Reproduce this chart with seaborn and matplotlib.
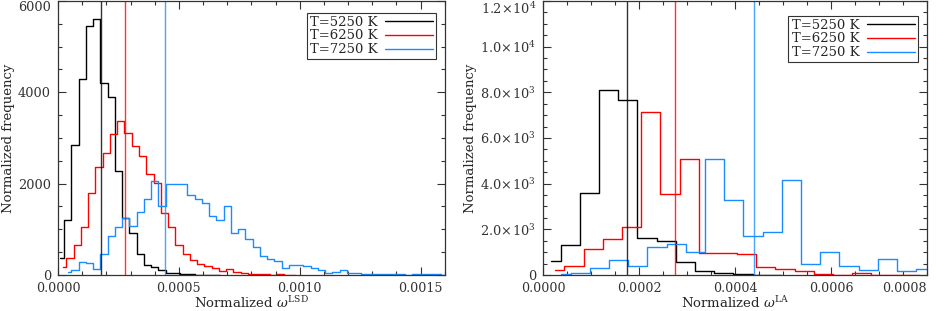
import numpy as np
import pandas as pd
import matplotlib
matplotlib.use("Agg")
import matplotlib.pyplot as plt
from matplotlib.ticker import MultipleLocator, FuncFormatter
import seaborn as sns

# temperatures / colours
temps = ["T=5250 K", "T=6250 K", "T=7250 K"]
colors = ["#000000", "#ff0000", "#1a8cff"]

# median values (vertical lines)
medians_lsd = [0.000176, 0.000276, 0.000441]
medians_la = [0.000175, 0.000276, 0.000440]

# left panel: omega LSD histograms (first bin centre, bin width, counts)
lsd_start = [0.00001, 0.00002, 0.00004]
lsd_width = 0.00003
lsd_black = [365, 1200, 2850, 4300, 5450, 5600, 4200, 3900, 2270, 1250, 925, 450,
             218, 168, 109, 40, 35, 20, 15, 10, 8, 5, 3]
lsd_red = [180, 380, 650, 1050, 1800, 2370, 2670, 3090, 3380, 3120, 2820, 2600,
           2220, 2020, 1360, 1040, 656, 460, 330, 240, 197, 146, 94, 124, 72, 37,
           25, 30, 15, 10, 20, 5, 5]
lsd_blue = [60, 115, 280, 270, 130, 450, 860, 1040, 1250, 1080, 1380, 1660, 2050,
            1520, 2000, 2000, 2000, 1750, 1670, 1570, 1300, 1200, 1500, 910, 1000,
            780, 620, 415, 345, 310, 146, 215, 220, 200, 146, 110, 51, 73, 110, 51,
            51, 22, 30, 20, 15, 25, 30, 10, 20, 15, 30, 20, 10, 15]

# right panel: omega LA histograms
la_start = [0.0000167, 0.0000244, 0.0000377]
la_width = 0.00004
la_black = [600, 1320, 3570, 8100, 7650, 1600, 1500, 550, 190, 73, 29, 10, 5]
la_red = [200, 380, 1130, 1570, 2100, 7140, 3560, 5080, 950, 980, 920, 330, 250,
          190, 44, 15, 73, 10, 10, 5]
la_blue = [44, 102, 293, 658, 380, 1230, 1350, 1024, 5080, 3293, 1727, 1873, 4171,
           483, 996, 410, 220, 688, 176, 249]


def make_frame(starts, width, series):
    rows = []
    for t, s0, vals in zip(temps, starts, series):
        x = s0 + width * np.arange(len(vals))
        rows.append(pd.DataFrame({"x": x, "freq": vals, "T": t}))
    return pd.concat(rows, ignore_index=True)


def sci_fmt(v, pos):
    if v <= 0:
        return "0"
    e = int(np.floor(np.log10(v)))
    return r"$%.1f\!\times\!10^{%d}$" % (v / 10 ** e, e)


sns.set_style("ticks")
plt.rcParams["font.family"] = ["DejaVu Serif"]
plt.rcParams["mathtext.fontset"] = "dejavuserif"
plt.rcParams["font.size"] = 9.5
plt.rcParams["xtick.labelsize"] = 9.1
plt.rcParams["ytick.labelsize"] = 9.3

fig = plt.figure(figsize=(9.48, 3.11), dpi=100)
ax1 = fig.add_axes([0.0612, 0.1158, 0.408, 0.881])
ax2 = fig.add_axes([0.5728, 0.1158, 0.405, 0.881])

panels = [
    (ax1, make_frame(lsd_start, lsd_width, [lsd_black, lsd_red, lsd_blue]), medians_lsd,
     (0, 0.0016), (0, 6000), r"Normalized $\omega^{\rm LSD}$"),
    (ax2, make_frame(la_start, la_width, [la_black, la_red, la_blue]), medians_la,
     (0, 0.0008), (0, 12000), r"Normalized $\omega^{\rm LA}$"),
]

for ax, df, meds, xl, yl, xlab in panels:
    sns.lineplot(data=df, x="x", y="freq", hue="T", palette=colors, estimator=None,
                 drawstyle="steps-mid", linewidth=1.0, ax=ax)
    for m, c in zip(meds, colors):
        ax.axvline(m, color=c, linewidth=1.0, alpha=0.8)
    ax.set_xlim(*xl)
    ax.set_ylim(*yl)
    ax.set_xlabel(xlab, labelpad=0)
    ax.set_ylabel("Normalized frequency", labelpad=2)
    ax.tick_params(which="both", direction="in", top=True, right=True, colors="#333333")
    ax.tick_params(which="major", length=6, width=0.8)
    ax.tick_params(axis="x", which="major", pad=5)
    ax.tick_params(axis="y", which="major", pad=5)
    ax.tick_params(which="minor", length=3, width=0.8)
    for sp in ax.spines.values():
        sp.set_color("#333333")
        sp.set_linewidth(0.9)
    handles, labels = ax.get_legend_handles_labels()
    leg = ax.legend(handles, labels, loc="upper right",
                    bbox_to_anchor=(0.978, 0.958) if ax is ax1 else (0.977, 0.947),
                    markerfirst=False, frameon=True, fancybox=False, framealpha=1,
                    edgecolor="#333333", handlelength=3.6, handletextpad=0.6,
                    labelspacing=0.05, borderpad=0.25, borderaxespad=0)
    leg.get_frame().set_linewidth(0.8)

ax1.xaxis.set_major_locator(MultipleLocator(0.0005))
ax1.xaxis.set_minor_locator(MultipleLocator(0.0001))
ax1.xaxis.set_major_formatter(FuncFormatter(lambda v, p: "%.4f" % v))
ax1.yaxis.set_major_locator(MultipleLocator(2000))
ax1.yaxis.set_minor_locator(MultipleLocator(500))

ax2.xaxis.set_major_locator(MultipleLocator(0.0002))
ax2.xaxis.set_minor_locator(MultipleLocator(0.00005))
ax2.xaxis.set_major_formatter(FuncFormatter(lambda v, p: "%.4f" % v))
ax2.yaxis.set_major_locator(MultipleLocator(2000))
ax2.yaxis.set_minor_locator(MultipleLocator(500))
ax2.yaxis.set_major_formatter(FuncFormatter(sci_fmt))

# keep the top y label and the last x label inside the figure
fig.canvas.draw()
for ax in (ax1, ax2):
    ymax = ax.get_ylim()[1]
    for t in ax.yaxis.get_major_ticks():
        if abs(t.get_loc() - ymax) < 1:
            t.label1.set_verticalalignment("top")
xmax = ax2.get_xlim()[1]
for t in ax2.xaxis.get_major_ticks():
    if abs(t.get_loc() - xmax) < 1e-7:
        t.label1.set_horizontalalignment("right")
        t.label1.set_x(xmax)

fig.savefig("out.png", dpi=100)
